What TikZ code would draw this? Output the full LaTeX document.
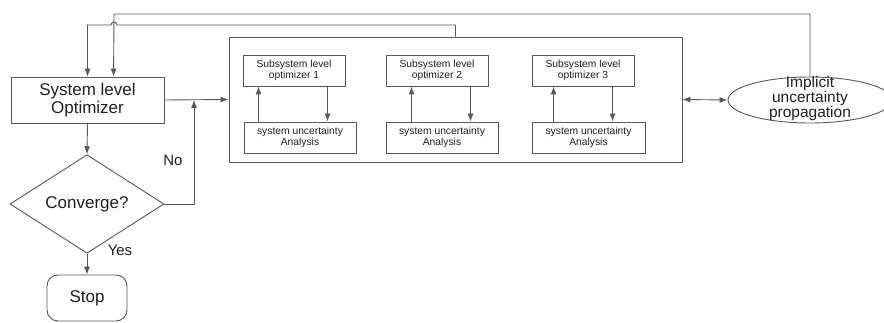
\documentclass[tikz,border=0pt]{standalone}
\usepackage{fontspec}
\setmainfont{Liberation Sans}
\usetikzlibrary{shapes.geometric,arrows.meta}
\definecolor{ln}{HTML}{585858}
\definecolor{tx}{HTML}{202020}
\begin{document}
\begin{tikzpicture}[x=1pt,y=-1pt,
  line width=0.9pt,
  every node/.style={text=tx},
  box/.style={draw=ln,rectangle,inner sep=0pt,align=center},
  bigfont/.style={font=\fontsize{17}{18.5}\selectfont},
  smallfont/.style={font=\fontsize{10.3}{11.5}\selectfont},
  arr/.style={draw=ln,-{Latex[length=8pt,width=6pt]}},
  darr/.style={draw=ln,{Latex[length=8pt,width=6pt]}-{Latex[length=8pt,width=6pt]}},
  lab/.style={font=\fontsize{15}{16}\selectfont}]
\useasboundingbox (0,0) rectangle (884,323);
% left column
\node[box,bigfont,minimum width=153pt,minimum height=46pt] (sys) at (87.5,100) {System level\\Optimizer};
\node[draw=ln,diamond,inner sep=0pt,minimum width=154pt,minimum height=64pt,bigfont] (conv) at (87,204) {Converge?};
\node[draw=ln,rectangle,rounded corners=11pt,minimum width=80pt,minimum height=46pt,bigfont] (stop) at (87,298) {Stop};
% big box
\node[box,minimum width=453pt,minimum height=125pt] (big) at (455.5,99.5) {};
% subsystems
\node[box,smallfont,minimum width=102pt,minimum height=31pt] (sub1) at (294,70.5) {Subsystem level\\optimizer 1};
\node[box,smallfont,minimum width=112pt,minimum height=31pt] (ana1) at (300,137.5) {system uncertainty\\Analysis};
\node[box,smallfont,minimum width=102pt,minimum height=31pt] (sub2) at (437,70.5) {Subsystem level\\optimizer 2};
\node[box,smallfont,minimum width=112pt,minimum height=31pt] (ana2) at (442,137.5) {system uncertainty\\Analysis};
\node[box,smallfont,minimum width=102pt,minimum height=31pt] (sub3) at (583,70.5) {Subsystem level\\optimizer 3};
\node[box,smallfont,minimum width=113pt,minimum height=31pt] (ana3) at (588.5,137.5) {system uncertainty\\Analysis};
% ellipse
\node[draw=ln,ellipse,inner sep=0pt,minimum width=164pt,minimum height=46pt] (ell) at (810,100) {};
\node[align=center,font=\fontsize{15.5}{15}\selectfont] (elltext) at (810,98) {Implicit\\uncertainty\\propagation};
% connectors left
\draw[arr] (sys.south) -- (conv.north);
\draw[arr] (conv.south) -- (stop.north);
\node[lab] (yes) at (120,250) {Yes};
\coordinate (jn) at (194,100);
\draw[arr] (conv.east) -- (conv.east -| jn) -- (jn);
\node[lab] (no) at (173,160) {No};
\draw[arr] (sys.east) -- (big.west);
% inside arrows
\draw[arr] ([xshift=15pt]ana1.north west) -- ([xshift=16pt]sub1.south west);
\draw[arr] ([xshift=85pt]sub1.south west) -- ([xshift=84pt]ana1.north west);
\draw[arr] ([xshift=26pt]ana2.north west) -- ([xshift=26pt]sub2.south west);
\draw[arr] ([xshift=85pt]sub2.south west) -- ([xshift=85pt]ana2.north west);
\draw[arr] ([xshift=22pt]ana3.north west) -- ([xshift=22pt]sub3.south west);
\draw[arr] ([xshift=81pt]sub3.south west) -- ([xshift=81pt]ana3.north west);
% to ellipse
\draw[darr] (big.east) -- (ell.west);
% feedback lines
\coordinate (topA) at (810,14);
\coordinate (topB) at (114,14);
\draw[arr] (ell.north) -- (topA) -- (topB) -- ([xshift=103pt]sys.north west);
\coordinate (inA) at (455.5,25);
\coordinate (hopR) at (117,25);
\coordinate (inB) at (87.5,25);
\draw[arr] (big.north) -- (inA) -- (hopR) arc[start angle=0,end angle=180,radius=3pt] -- (inB) -- (sys.north);
\end{tikzpicture}
\end{document}
